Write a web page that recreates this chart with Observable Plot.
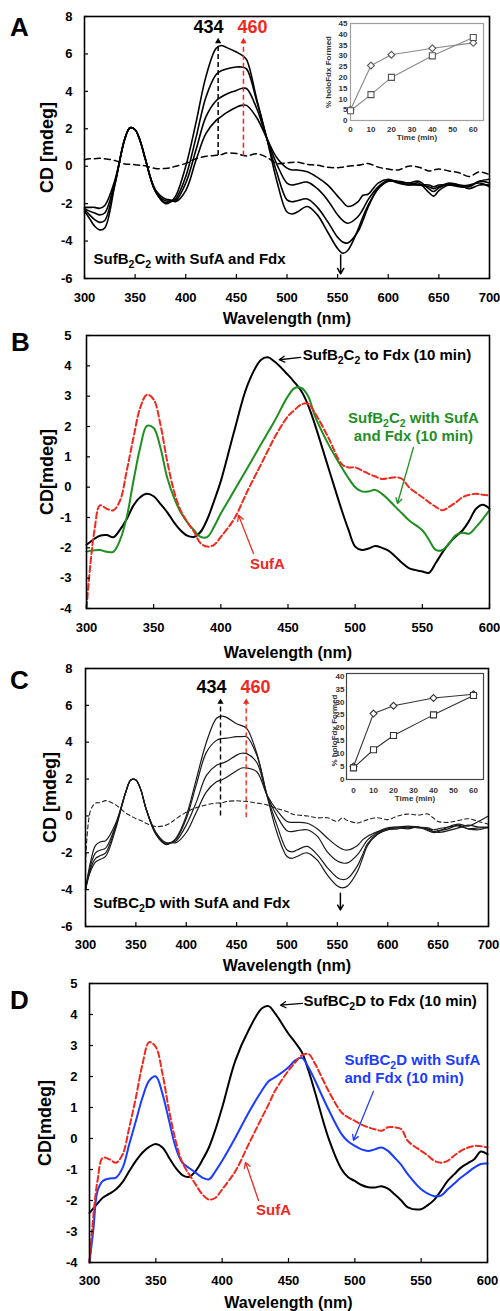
<!DOCTYPE html>
<html><head><meta charset="utf-8">
<script src="https://cdn.jsdelivr.net/npm/d3@7"></script>
<script src="https://cdn.jsdelivr.net/npm/@observablehq/plot@0.6"></script>
<style>
body{margin:0;background:#fff;}
#root{position:relative;width:500px;height:1311px;overflow:hidden;background:#fff;}
#root svg{position:absolute;}
</style></head><body><div id="root"></div>
<script>
// ---------------- DATA ----------------
// Panel A / C wavelengths (nm)
const wlA = [300,305,310,315,320,330,340,345,350,355,360,370,380,385,390,400,410,420,430,435,440,450,455,460,470,480,490,500,505,510,520,530,540,550,555,560,570,575,580,590,600,610,620,630,640,645,650,660,670,680,690,700];
const aT1 = [-2.4,-2.8,-3.2,-3.4,-3.3,-1.0,1.5,2.05,1.95,1.35, 0.4,-1.35,-2.0,-1.9,-1.6,0.0,2.3,4.8,6.3,6.45, 6.35,6.1,5.95,5.7,3.6,1.5,-0.8,-2.45,-2.55,-2.45, -2.15,-2.6,-3.5,-4.4,-4.65,-4.5,-3.4,-2.7,-2.1,-1.2, -0.8,-0.85,-1.0,-0.9,-1.4,-1.6,-1.3,-1.0,-1.1,-1.1, -0.8,-0.9];
const aT2 = [-2.3,-2.6,-2.85,-3.0,-2.9,-0.95,1.5,2.05,1.95,1.35, 0.4,-1.35,-1.95,-1.9,-1.75,-0.55,1.5,3.7,4.9,5.1, 5.2,5.3,5.3,5.2,3.5,1.5,-0.35,-1.8,-1.9,-1.85, -1.75,-2.2,-2.95,-3.8,-4.05,-4.1,-3.5,-2.9,-2.2,-1.2, -0.8,-0.8,-0.9,-0.8,-1.2,-1.35,-1.15,-0.95,-1.0,-1.2, -1.0,-1.0];
const aT3 = [-2.25,-2.4,-2.5,-2.6,-2.5,-0.85,1.5,2.05,1.95,1.35, 0.4,-1.3,-1.85,-1.85,-1.85,-0.9,0.85,2.65,3.5,3.7, 3.85,4.05,4.15,4.15,3.1,1.5,0.1,-0.9,-1.0,-0.95, -0.85,-1.2,-1.8,-2.6,-2.9,-3.05,-2.7,-2.3,-1.8,-1.1, -0.75,-0.9,-1.0,-1.0,-1.1,-1.2,-1.1,-0.9,-1.0,-1.05, -0.8,-0.7];
const aT4 = [-2.2,-2.2,-2.2,-2.25,-2.1,-0.75,1.5,2.05,1.95,1.35, 0.4,-1.25,-1.75,-1.8,-1.9,-1.3,0.3,1.75,2.45,2.65, 2.85,3.15,3.25,3.25,2.6,1.5,0.45,-0.1,-0.2,-0.2, -0.3,-0.6,-1.0,-1.6,-1.9,-2.15,-1.9,-1.55,-1.5,-0.9, -0.7,-0.85,-0.9,-1.0,-1.0,-1.1,-1.0,-1.0,-1.05,-1.0, -0.9,-1.1];
const aDash = [0.35,0.4,0.4,0.42,0.4,0.3,0.12,0.1,0.08,0.05, 0.02,-0.12,-0.12,-0.08,0.0,0.15,0.4,0.53,0.58,0.62, 0.7,0.68,0.6,0.55,0.66,0.48,0.15,0.18,0.2,0.22, 0.1,0.05,-0.05,-0.08,-0.05,0.0,0.05,0.1,0.15,-0.05, -0.15,-0.2,0.0,-0.05,-0.25,-0.2,-0.15,-0.25,-0.35,-0.55, -0.3,-0.45];

const wlC = wlA;
const cT1 = [-4.0,-3.0,-2.5,-2.35,-2.2,-0.7,1.3,1.95,1.95,1.4, 0.4,-1.0,-1.55,-1.45,-1.2,0.0,2.0,4.0,5.3,5.42, 5.35,5.0,4.9,4.75,3.4,1.15,-0.9,-2.2,-2.3,-2.2, -2.0,-2.4,-3.2,-3.8,-3.9,-3.8,-3.0,-2.3,-1.6,-1.0, -0.75,-0.65,-0.7,-0.6,-0.75,-0.85,-0.9,-0.8,-0.65,-0.5, -0.6,-0.6];
const cT2 = [-4.0,-2.85,-2.3,-2.15,-2.0,-0.6,1.3,1.95,1.95,1.4, 0.4,-1.0,-1.55,-1.45,-1.25,-0.15,1.7,3.45,4.1,4.2, 4.22,4.3,4.3,4.3,3.3,1.15,-0.5,-1.85,-1.95,-1.85, -1.65,-2.1,-2.8,-3.35,-3.45,-3.4,-2.7,-2.1,-1.5,-0.95, -0.75,-0.7,-0.6,-0.65,-0.7,-0.85,-0.8,-0.7,-0.5,-0.7, -0.65,-0.65];
const cT3 = [-4.0,-2.7,-2.0,-1.85,-1.75,-0.5,1.3,1.95,1.95,1.4, 0.4,-0.95,-1.5,-1.45,-1.35,-0.5,0.75,2.2,2.75,2.85, 2.95,3.3,3.4,3.38,2.9,1.15,0.0,-0.8,-0.85,-0.8, -0.75,-1.1,-1.95,-2.45,-2.55,-2.55,-2.1,-1.7,-1.3,-0.9, -0.7,-0.6,-0.65,-0.6,-0.8,-0.9,-0.85,-0.6,-0.45,-0.55, -0.3,0.0];
const cT4 = [-4.0,-2.5,-1.6,-1.4,-1.35,-0.4,1.3,1.95,1.95,1.4, 0.4,-0.9,-1.45,-1.45,-1.45,-0.9,0.2,1.3,1.85,1.95, 2.1,2.45,2.6,2.6,2.4,1.15,0.3,-0.3,-0.35,-0.35, -0.4,-0.7,-1.2,-1.65,-1.8,-1.85,-1.6,-1.3,-1.1,-0.85, -0.65,-0.6,-0.55,-0.6,-0.65,-0.75,-0.7,-0.6,-0.55,-0.7, -0.75,-0.6];
const cDash = [-2.6,0.3,0.7,0.72,0.83,0.6,0.15,0.0,-0.15,-0.25, -0.4,-0.58,-0.5,-0.35,-0.15,0.2,0.45,0.6,0.7,0.7, 0.78,0.82,0.8,0.78,0.7,0.6,0.4,0.24,0.1,0.05, 0.0,-0.1,-0.1,-0.3,-0.1,-0.25,-0.38,-0.3,-0.2,-0.1, -0.2,0.0,0.1,0.05,0.1,-0.1,-0.3,-0.35,-0.25,-0.15, -0.3,-0.45];

// Panel B / D wavelengths (nm)
const wlB = [300,303,306,310,315,320,325,330,335,340,345,350,355,360,365,370,375,380,385,390,395,400,410,420,430,435,440,450,455,460,465,470,480,490,495,500,505,510,515,520,525,530,535,540,550,555,560,565,570,575,580,585,590,595,600];
const bToFdx = [-1.9,-1.8,-1.7,-1.6,-1.58,-1.65,-1.4,-1.05,-0.6,-0.33, -0.22,-0.3,-0.55,-0.82,-1.15,-1.42,-1.6,-1.64,-1.47,-1.05, -0.45,0.2,1.85,3.38,4.2,4.28,4.14,3.7,3.45,3.16, 2.7,2.07,0.65,-0.76,-1.4,-1.96,-2.07,-2.02,-1.94,-2.0, -2.1,-2.29,-2.5,-2.67,-2.78,-2.82,-2.5,-2.15,-1.85,-1.62, -1.42,-1.1,-0.71,-0.58,-0.71];
const bWithSufA = [-2.13,-2.1,-2.08,-2.07,-2.13,-2.13,-1.74,-0.98,0.22,1.31, 2.02,1.95,1.31,0.33,-0.33,-0.82,-1.15,-1.42,-1.64,-1.64, -1.3,-0.87,-0.11,0.65,1.42,1.8,2.18,3.0,3.27,3.27, 3.0,2.35,1.42,0.65,0.3,0.0,-0.14,-0.14,-0.09,-0.22, -0.42,-0.65,-0.87,-1.09,-1.42,-1.74,-2.07,-2.07,-1.85,-1.58, -1.5,-1.53,-1.31,-1.05,-0.76];
const bSufA = [-3.98,-2.5,-1.4,-0.6,-0.71,-0.76,-0.44,0.55,1.64,2.62, 3.05,2.89,2.07,0.87,-0.11,-0.76,-1.15,-1.47,-1.85,-1.96, -1.9,-1.64,-1.04,-0.11,0.76,1.2,1.64,2.34,2.55,2.73, 2.75,2.45,1.64,0.76,0.65,0.65,0.55,0.44,0.35,0.27, 0.3,0.33,0.27,0.0,-0.33,-0.5,-0.65,-0.76,-0.65,-0.5, -0.33,-0.25,-0.22,-0.25,-0.27];

const wlD = wlB;
const dToFdx = [-2.4,-2.25,-2.1,-1.91,-1.78,-1.64,-1.4,-1.05,-0.72,-0.45, -0.27,-0.18,-0.29,-0.62,-0.95,-1.18,-1.24,-1.05,-0.7,-0.29, 0.3,1.0,2.52,3.5,4.2,4.27,4.03,3.38,3.1,2.79, 2.2,1.49,0.03,-0.99,-1.25,-1.37,-1.5,-1.57,-1.58,-1.54, -1.62,-1.8,-2.0,-2.22,-2.28,-2.15,-1.97,-1.68,-1.37,-1.15, -0.94,-0.8,-0.67,-0.42,-0.51];
const dWithSufA = [-4.0,-2.9,-1.7,-1.37,-1.29,-1.26,-0.94,-0.18,0.57,1.33, 1.87,2.0,1.44,0.57,-0.29,-0.78,-0.95,-1.1,-1.26,-1.32, -1.05,-0.72,0.03,0.84,1.55,1.85,1.98,2.3,2.52,2.6, 2.3,1.87,0.95,0.14,-0.1,-0.24,-0.35,-0.4,-0.35,-0.29, -0.4,-0.62,-0.85,-1.16,-1.64,-1.78,-1.86,-1.84,-1.64,-1.45, -1.26,-1.1,-0.94,-0.82,-0.81];
const dSufA = [-4.0,-2.45,-1.37,-0.62,-0.67,-0.78,-0.51,0.36,1.33,2.41, 3.11,2.95,2.09,0.9,-0.08,-0.78,-1.15,-1.48,-1.8,-1.97, -1.91,-1.64,-1.05,-0.18,0.68,1.1,1.55,2.19,2.45,2.68, 2.73,2.41,1.55,0.84,0.68,0.57,0.45,0.36,0.3,0.25, 0.36,0.36,0.3,-0.08,-0.4,-0.55,-0.72,-0.78,-0.72,-0.55, -0.4,-0.3,-0.24,-0.25,-0.29];

// Insets: % holoFdx formed vs time
const insetTime = [0,10,20,40,60];
const insetADiamond = [5,25.5,30.5,33.5,36];
const insetASquare = [4.5,12,20,30,38.5];
const insetCDiamond = [5,25.5,28.5,31.5,33];
const insetCSquare = [4.5,11.5,17,25,32.5];

// Tick labels
const xTicksAC = [300,350,400,450,500,550,600,650,700];
const yTicksAC = [-6,-4,-2,0,2,4,6,8];
const xTicksBD = [300,350,400,450,500,550,600];
const yTicksBD = [-4,-3,-2,-1,0,1,2,3,4,5];
const insetXTicks = [0,10,20,30,40,50,60];
const insetAYTicks = [0,5,10,15,20,25,30,35,40,45];
const insetCYTicks = [0,5,10,15,20,25,30,35,40];

// ---------------- HELPERS ----------------
const root = document.getElementById("root");
const FONT = "'Liberation Sans', Arial, Helvetica, sans-serif";
const RED = "#f0281e", GREEN = "#1f8f1f", BLUE = "#1a3cff";

function rows(wl, named) {
  const out = [];
  for (const [s, vals] of Object.entries(named)) vals.forEach((v, i) => out.push({wl: wl[i], v, s}));
  return out;
}
function pts(t, v) { return t.map((d, i) => ({t: d, v: v[i]})); }

function place(svg, left, top) {
  svg.style.left = left + "px";
  svg.style.top = top + "px";
  root.appendChild(svg);
  subscripts(svg);
}

function subscripts(svg) {
  const NS = "http://www.w3.org/2000/svg";
  svg.querySelectorAll("text").forEach(el => {
    [...el.childNodes].forEach(node => {
      if (node.nodeType !== 3 || !node.nodeValue.includes("₂")) return;
      const fs = parseFloat(getComputedStyle(el).fontSize) || 15;
      const sh = Math.round(fs * 0.28);
      const parts = node.nodeValue.split("₂");
      const frag = document.createDocumentFragment();
      parts.forEach((p, i) => {
        if (i === 0) { frag.appendChild(document.createTextNode(p)); return; }
        const s = document.createElementNS(NS, "tspan");
        s.setAttribute("font-size", (fs * 0.7) + "px");
        s.setAttribute("dy", sh);
        s.textContent = "2";
        frag.appendChild(s);
        const r = document.createElementNS(NS, "tspan");
        r.setAttribute("dy", -sh);
        r.textContent = p;
        frag.appendChild(r);
      });
      el.replaceChild(frag, node);
    });
  });
}

function panel(o) {
  const fw = 500 - o.m[3] - o.m[1], fh = o.height - o.m[0] - o.m[2];
  return Plot.plot({
    width: 500, height: o.height,
    marginTop: o.m[0], marginRight: o.m[1], marginBottom: o.m[2], marginLeft: o.m[3],
    x: {domain: o.xDomain}, y: {domain: o.yDomain},
    style: {fontFamily: FONT, fontWeight: "bold", color: "black", background: "transparent", overflow: "visible"},
    marks: [
      ...o.marks,
      Plot.frame({stroke: "black", strokeWidth: 1.6}),
      Plot.tickY(o.yTicks, {y: d => d, insetRight: fw - 4, stroke: "black", strokeWidth: 1.2}),
      Plot.tickX(o.xTicks, {x: d => d, insetTop: fh - 4, stroke: "black", strokeWidth: 1.2}),
      Plot.axisY({ticks: o.yTicks, tickSize: 0, tickPadding: o.ypad, tickFormat: d => String(d), fontSize: 13, label: null}),
      Plot.axisX({ticks: o.xTicks, tickSize: 0, tickPadding: o.xpad, tickFormat: d => String(d), fontSize: 13, label: null}),
      Plot.text([o.ytitle], {text: d => d, frameAnchor: "left", dx: o.ytDx, rotate: -90, fontSize: 18, textAnchor: "middle", lineAnchor: "middle"}),
      Plot.text(["Wavelength (nm)"], {text: d => d, frameAnchor: "bottom", dy: o.xtDy, fontSize: 16, textAnchor: "middle", lineAnchor: "middle"}),
      Plot.text([o.letter], {text: d => d, frameAnchor: "top-left", dx: o.lDx, dy: o.lDy, fontSize: 26, textAnchor: "middle", lineAnchor: "middle"})
    ]
  });
}

function inset(o) {
  return Plot.plot({
    width: o.width, height: o.height,
    marginTop: o.m[0], marginRight: o.m[1], marginBottom: o.m[2], marginLeft: o.m[3],
    x: {domain: o.xDomain}, y: {domain: o.yDomain},
    style: {fontFamily: FONT, fontWeight: "bold", color: "#333", background: "transparent", overflow: "visible"},
    marks: [
      Plot.frame({stroke: o.frameColor, strokeWidth: 1.2}),
      Plot.axisY({ticks: o.yTicks, tickSize: 0, tickPadding: o.ypad, tickFormat: d => String(d), fontSize: 8, label: null}),
      Plot.axisX({ticks: insetXTicks, tickSize: 0, tickPadding: o.xpad, tickFormat: d => String(d), fontSize: 8, label: null}),
      Plot.line(pts(insetTime, o.dia), {x: "t", y: "v", stroke: o.lineColor, strokeWidth: 1.1}),
      Plot.line(pts(insetTime, o.sq), {x: "t", y: "v", stroke: o.lineColor, strokeWidth: 1.1}),
      Plot.dot(pts(insetTime, o.dia), {x: "t", y: "v", symbol: "diamond2", r: 3.1, fill: "white", stroke: o.markColor, strokeWidth: 1.1}),
      Plot.dot(pts(insetTime, o.sq), {x: "t", y: "v", symbol: "square", r: 3.4, fill: "white", stroke: o.markColor, strokeWidth: 1.1}),
      Plot.text(["% holoFdx Formed"], {text: d => d, frameAnchor: "left", dx: o.ytDx, dy: o.ytDy, rotate: -90, fontSize: 8, textAnchor: "middle", lineAnchor: "middle"}),
      Plot.text(["Time (min)"], {text: d => d, frameAnchor: "bottom", dy: o.xtDy, fontSize: 8, textAnchor: "middle", lineAnchor: "middle"})
    ]
  });
}

// ---------------- PANEL A ----------------
const svgA = panel({
  height: 330, m: [16, 11, 52, 84], xDomain: [300, 700], yDomain: [-6, 8],
  xTicks: xTicksAC, yTicks: yTicksAC, ypad: 12, xpad: 14,
  ytitle: "CD [mdeg]", ytDx: -37, xtDy: 40, letter: "A", lDx: -65, lDy: 11,
  marks: [
    Plot.line(rows(wlA, {dash: aDash}), {x: "wl", y: "v", stroke: "black", strokeWidth: 1.5, strokeDasharray: "6,4", curve: "catmull-rom"}),
    Plot.line(rows(wlA, {t1: aT1, t2: aT2, t3: aT3, t4: aT4}), {x: "wl", y: "v", z: "s", stroke: "black", strokeWidth: 1.6, curve: "catmull-rom"}),
    Plot.ruleX([432], {x: d => d, y1: 0.57, y2: 6.6, stroke: "black", strokeWidth: 1.5, strokeDasharray: "5,3"}),
    Plot.dot([432], {x: d => d, y: 6.67, symbol: "triangle", r: 2.3, fill: "black", stroke: "none"}),
    Plot.ruleX([457], {x: d => d, y1: 0.53, y2: 6.6, stroke: RED, strokeWidth: 1.5, strokeDasharray: "5,3"}),
    Plot.dot([457], {x: d => d, y: 6.67, symbol: "triangle", r: 2.3, fill: RED, stroke: "none"}),
    Plot.text(["434"], {text: d => d, x: 422.5, y: 7.41, fontSize: 18, fill: "black"}),
    Plot.text(["460"], {text: d => d, x: 466, y: 7.41, fontSize: 18, fill: RED}),
    Plot.arrow([0], {x1: 553, y1: -4.75, x2: 553, y2: -5.75, stroke: "black", strokeWidth: 1.5, headLength: 7}),
    Plot.text(["SufB₂C₂ with SufA and Fdx"], {text: d => d, x: 309, y: -4.95, textAnchor: "start", fontSize: 15})
  ]
});
place(svgA, 0, 0);
place(inset({
  width: 169, height: 127, m: [5, 4, 25, 32], xDomain: [0, 65], yDomain: [0, 45],
  yTicks: insetAYTicks, ypad: 3, xpad: 6, ytDx: -22, ytDy: 0, xtDy: 17,
  frameColor: "#a0a0a0", lineColor: "#888", markColor: "#555",
  dia: insetADiamond, sq: insetASquare
}), 318, 18);

// ---------------- PANEL B ----------------
const svgB = panel({
  height: 325, m: [5, 11, 47, 86], xDomain: [300, 600], yDomain: [-4, 5],
  xTicks: xTicksBD, yTicks: yTicksBD, ypad: 15, xpad: 14,
  ytitle: "CD[mdeg]", ytDx: -39, xtDy: 44, letter: "B", lDx: -66, lDy: 7,
  marks: [
    Plot.line(rows(wlB, {a: bToFdx}), {x: "wl", y: "v", stroke: "black", strokeWidth: 2, curve: "catmull-rom"}),
    Plot.line(rows(wlB, {a: bWithSufA}), {x: "wl", y: "v", stroke: GREEN, strokeWidth: 2, curve: "catmull-rom"}),
    Plot.line(rows(wlB, {a: bSufA}), {x: "wl", y: "v", stroke: RED, strokeWidth: 2, strokeDasharray: "6,3", curve: "catmull-rom"}),
    Plot.text(["SufB₂C₂ to Fdx (10 min)"], {text: d => d, x: 461, y: 4.34, textAnchor: "start", fontSize: 15}),
    Plot.arrow([0], {x1: 459.5, y1: 4.28, x2: 443.5, y2: 4.2, stroke: "black", strokeWidth: 1.3, headLength: 7}),
    Plot.text(["SufB₂C₂ with SufA"], {text: d => d, x: 543.4, y: 2.26, fontSize: 15, fill: GREEN}),
    Plot.text(["and Fdx (10 min)"], {text: d => d, x: 543.4, y: 1.67, fontSize: 15, fill: GREEN}),
    Plot.arrow([0], {x1: 543.4, y1: 1.31, x2: 531.5, y2: -0.54, stroke: GREEN, strokeWidth: 1.3, headLength: 7}),
    Plot.text(["SufA"], {text: d => d, x: 434.7, y: -2.55, fontSize: 15, fill: RED}),
    Plot.arrow([0], {x1: 424.3, y1: -2.19, x2: 413.2, y2: -0.93, stroke: RED, strokeWidth: 1.3, headLength: 7})
  ]
});
place(svgB, 0, 330);

// ---------------- PANEL C ----------------
const svgC = panel({
  height: 325, m: [13, 12, 54, 85], xDomain: [300, 700], yDomain: [-6, 8],
  xTicks: xTicksAC, yTicks: yTicksAC, ypad: 13, xpad: 13,
  ytitle: "CD [mdeg]", ytDx: -35, xtDy: 39, letter: "C", lDx: -66, lDy: 12,
  marks: [
    Plot.line(rows(wlC, {dash: cDash}), {x: "wl", y: "v", stroke: "#222", strokeWidth: 1.1, strokeDasharray: "4,3", curve: "catmull-rom"}),
    Plot.line(rows(wlC, {t1: cT1, t2: cT2, t3: cT3, t4: cT4}), {x: "wl", y: "v", z: "s", stroke: "#1a1a1a", strokeWidth: 1.2, curve: "catmull-rom"}),
    Plot.ruleX([434], {x: d => d, y1: 0.0, y2: 6.1, stroke: "black", strokeWidth: 1.4, strokeDasharray: "5,3"}),
    Plot.dot([434], {x: d => d, y: 6.18, symbol: "triangle", r: 2.3, fill: "black", stroke: "none"}),
    Plot.ruleX([459.5], {x: d => d, y1: -0.1, y2: 6.1, stroke: RED, strokeWidth: 1.4, strokeDasharray: "5,3"}),
    Plot.dot([459.5], {x: d => d, y: 6.18, symbol: "triangle", r: 2.3, fill: RED, stroke: "none"}),
    Plot.text(["434"], {text: d => d, x: 425, y: 6.99, fontSize: 18, fill: "black"}),
    Plot.text(["460"], {text: d => d, x: 468.7, y: 6.99, fontSize: 18, fill: RED}),
    Plot.arrow([0], {x1: 553, y1: -4.2, x2: 553, y2: -5.1, stroke: "black", strokeWidth: 1.5, headLength: 7}),
    Plot.text(["SufBC₂D with SufA and Fdx"], {text: d => d, x: 307.6, y: -4.71, textAnchor: "start", fontSize: 15})
  ]
});
place(svgC, 0, 655);
place(inset({
  width: 177, height: 140, m: [4, 4, 30, 36], xDomain: [-3.5, 65], yDomain: [0, 41],
  yTicks: insetCYTicks, ypad: 2, xpad: 8, ytDx: -12, ytDy: 4, xtDy: 19,
  frameColor: "#444", lineColor: "#333", markColor: "#333",
  dia: insetCDiamond, sq: insetCSquare
}), 310, 669);

// ---------------- PANEL D ----------------
const svgD = panel({
  height: 331, m: [3, 13, 49, 89], xDomain: [300, 600], yDomain: [-4, 5],
  xTicks: xTicksBD, yTicks: yTicksBD, ypad: 12, xpad: 13,
  ytitle: "CD[mdeg]", ytDx: -44, xtDy: 40, letter: "D", lDx: -70, lDy: 17,
  marks: [
    Plot.line(rows(wlD, {a: dToFdx}), {x: "wl", y: "v", stroke: "black", strokeWidth: 2, curve: "catmull-rom"}),
    Plot.line(rows(wlD, {a: dWithSufA}), {x: "wl", y: "v", stroke: BLUE, strokeWidth: 2, curve: "catmull-rom"}),
    Plot.line(rows(wlD, {a: dSufA}), {x: "wl", y: "v", stroke: RED, strokeWidth: 2, strokeDasharray: "6,3", curve: "catmull-rom"}),
    Plot.text(["SufBC₂D to Fdx (10 min)"], {text: d => d, x: 461.3, y: 4.42, textAnchor: "start", fontSize: 15}),
    Plot.arrow([0], {x1: 460.5, y1: 4.36, x2: 444, y2: 4.3, stroke: "black", strokeWidth: 1.3, headLength: 7}),
    Plot.text(["SufBC₂D with SufA"], {text: d => d, x: 492.2, y: 2.52, textAnchor: "start", fontSize: 15, fill: BLUE}),
    Plot.text(["and Fdx (10 min)"], {text: d => d, x: 492.2, y: 1.94, textAnchor: "start", fontSize: 15, fill: BLUE}),
    Plot.arrow([0], {x1: 514, y1: 1.52, x2: 499, y2: -0.06, stroke: BLUE, strokeWidth: 1.3, headLength: 7}),
    Plot.text(["SufA"], {text: d => d, x: 438.7, y: -2.32, fontSize: 15, fill: RED}),
    Plot.arrow([0], {x1: 427.4, y1: -2.0, x2: 417.6, y2: -0.77, stroke: RED, strokeWidth: 1.3, headLength: 7})
  ]
});
place(svgD, 0, 980);
</script>
</body></html>
